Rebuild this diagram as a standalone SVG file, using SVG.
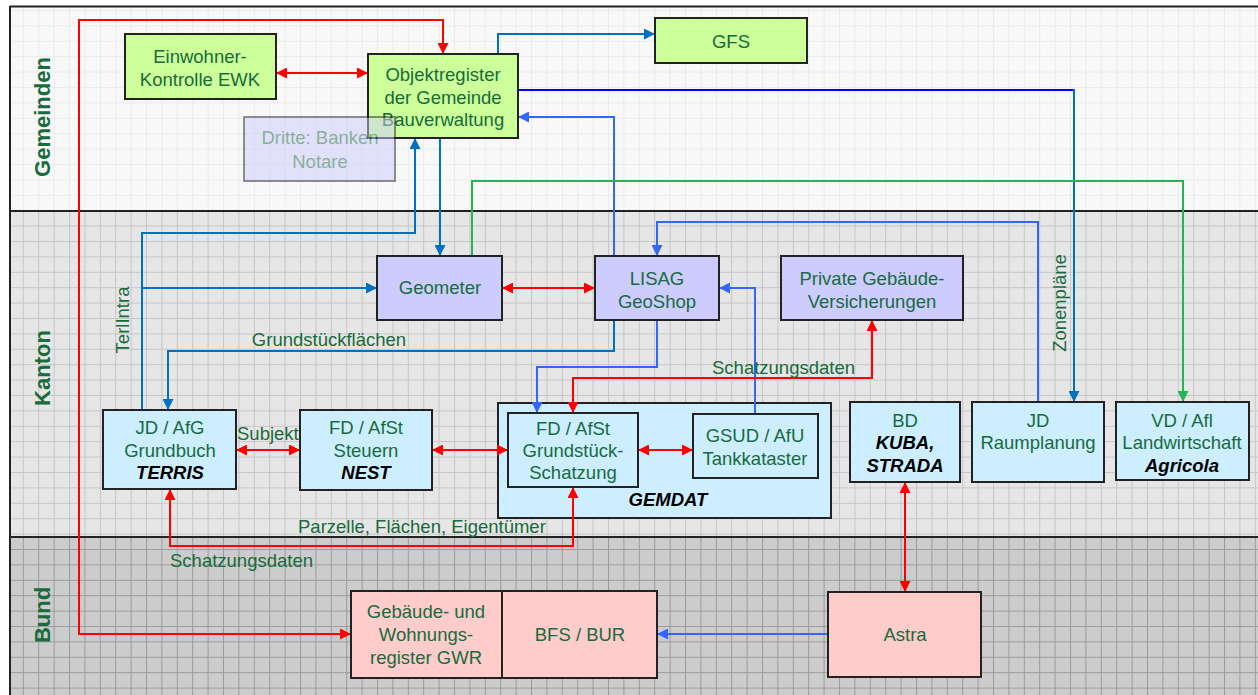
<svg xmlns="http://www.w3.org/2000/svg" width="1258" height="695" viewBox="0 0 1258 695">
<style>
text{font-family:"Liberation Sans",Arial,sans-serif;fill:#176b3c;font-size:18.5px}
.c{text-anchor:middle}
.bi{font-weight:bold;font-style:italic;fill:#000}
.lane{font-weight:bold;font-size:22px;text-anchor:middle}
.box{stroke:#222;stroke-width:2}
.g{fill:#ccff99}.v{fill:#ccccff}.b{fill:#cceeff}.p{fill:#ffcccc}
.ln{fill:none;stroke-width:2}
.r{stroke:#ff0000}.ba{stroke:#0070c0}.bb{stroke:#3366ff}.gr{stroke:#22b455}.bp{stroke:#0000ff}
</style>
<defs>
<pattern id="pg" x="7.4" y="10" width="15.4" height="15.4" patternUnits="userSpaceOnUse"><rect width="15.4" height="15.4" fill="#f8f8f8"/><path d="M0.5,0V15.4M0,0.5H15.4" stroke="#ebebeb" stroke-width="1"/></pattern>
<pattern id="pk" x="7.4" y="10" width="15.4" height="15.4" patternUnits="userSpaceOnUse"><rect width="15.4" height="15.4" fill="#e6e6e6"/><path d="M0.5,0V15.4M0,0.5H15.4" stroke="#c6c6c6" stroke-width="1"/></pattern>
<pattern id="pb" x="7.4" y="10" width="15.4" height="15.4" patternUnits="userSpaceOnUse"><rect width="15.4" height="15.4" fill="#cccccc"/><path d="M0.5,0V15.4M0,0.5H15.4" stroke="#9a9a9a" stroke-width="1"/></pattern>
<marker id="mr" viewBox="0 0 10 10" refX="10" refY="5" markerWidth="11" markerHeight="11" markerUnits="userSpaceOnUse" orient="auto-start-reverse"><path d="M0,0L10,5L0,10z" fill="#ff0000"/></marker>
<marker id="ma" viewBox="0 0 10 10" refX="10" refY="5" markerWidth="11" markerHeight="11" markerUnits="userSpaceOnUse" orient="auto-start-reverse"><path d="M0,0L10,5L0,10z" fill="#0070c0"/></marker>
<marker id="mb" viewBox="0 0 10 10" refX="10" refY="5" markerWidth="11" markerHeight="11" markerUnits="userSpaceOnUse" orient="auto-start-reverse"><path d="M0,0L10,5L0,10z" fill="#3366ff"/></marker>
<marker id="mg" viewBox="0 0 10 10" refX="10" refY="5" markerWidth="11" markerHeight="11" markerUnits="userSpaceOnUse" orient="auto-start-reverse"><path d="M0,0L10,5L0,10z" fill="#22b455"/></marker>
</defs>
<rect width="1258" height="695" fill="#ffffff"/>
<g id="lanes">
<rect x="10" y="7" width="1250" height="204" fill="url(#pg)"/>
<rect x="10" y="211" width="1250" height="326" fill="url(#pk)"/>
<rect x="10" y="537" width="1250" height="160" fill="url(#pb)"/>
<path d="M10,6.5H1260M10,211H1260M10,537H1260M10,6V697" stroke="#222" stroke-width="2" fill="none"/>
<text class="lane" transform="translate(50,117) rotate(-90)">Gemeinden</text>
<text class="lane" transform="translate(50,368) rotate(-90)">Kanton</text>
<text class="lane" transform="translate(50,615) rotate(-90)">Bund</text>
</g>
<g id="n-gemdat"><rect class="box b" x="498" y="403" width="333" height="115"/><text class="bi c" x="668" y="506">GEMDAT</text></g>
<g id="connectors">
<path class="ln r" d="M351,634H79V20H443V54" marker-start="url(#mr)" marker-end="url(#mr)"/>
<path class="ln r" d="M276,73H368" marker-start="url(#mr)" marker-end="url(#mr)"/>
<path class="ln ba" d="M498,54V34H655" marker-end="url(#ma)"/>
<path class="ln bp" d="M518,90H1074"/>
<path class="ln ba" d="M1074,89V402" marker-end="url(#ma)"/>
<path class="ln bb" d="M614,256V117H518" marker-end="url(#mb)"/>
<path class="ln ba" d="M440,138V256" marker-end="url(#ma)"/>
<path class="ln ba" d="M142,410V233H415V138" marker-end="url(#ma)"/>
<path class="ln ba" d="M142,288H377" marker-end="url(#ma)"/>
<path class="ln gr" d="M472,256V181H1183V402" marker-end="url(#mg)"/>
<path class="ln bb" d="M755,414V288H719" marker-end="url(#mb)"/>
<path class="ln bb" d="M1038,402V222H657V256" marker-end="url(#mb)"/>
<path class="ln ba" d="M614,320V351H168V410" marker-end="url(#ma)"/>
<path class="ln bb" d="M657,320V367H537V413" marker-end="url(#mb)"/>
<path class="ln r" d="M573,413V378H872V320" marker-start="url(#mr)" marker-end="url(#mr)"/>
<path class="ln r" d="M502,288H595" marker-start="url(#mr)" marker-end="url(#mr)"/>
<path class="ln r" d="M236,450H300" marker-start="url(#mr)" marker-end="url(#mr)"/>
<path class="ln r" d="M432,450H508" marker-start="url(#mr)" marker-end="url(#mr)"/>
<path class="ln r" d="M638,450H693" marker-start="url(#mr)" marker-end="url(#mr)"/>
<path class="ln r" d="M170,489V546H573V487" marker-start="url(#mr)" marker-end="url(#mr)"/>
<path class="ln r" d="M905,482V592" marker-start="url(#mr)" marker-end="url(#mr)"/>
<path class="ln bb" d="M828,634H657" marker-end="url(#mb)"/>
<text transform="translate(129,320) rotate(-90)" class="c">TerlIntra</text>
<text transform="translate(1066,303) rotate(-90)" class="c">Zonenpläne</text>
<text x="329" y="346" class="c">Grundstückflächen</text>
<text x="712" y="374">Schatzungsdaten</text>
<text x="237" y="440">Subjekt</text>
<text x="298" y="533">Parzelle, Flächen, Eigentümer</text>
<text x="170" y="567">Schatzungsdaten</text>
</g>
<g id="n-ewk"><rect class="box g" x="125" y="34" width="151" height="65"/><text class="c" x="200" y="63">Einwohner-</text><text class="c" x="200" y="86">Kontrolle EWK</text></g>
<g id="n-objekt"><rect class="box g" x="368" y="54" width="150" height="84"/><text class="c" x="443" y="81">Objektregister</text><text class="c" x="443" y="104">der Gemeinde</text><text class="c" x="443" y="126">Bauverwaltung</text></g>
<g id="n-gfs"><rect class="box g" x="655" y="18" width="152" height="45"/><text class="c" x="731" y="48">GFS</text></g>
<g id="n-dritte" opacity="0.5"><rect class="box v" x="244" y="117" width="151" height="64" stroke="#444"/><text class="c" x="320" y="144">Dritte: Banken</text><text class="c" x="320" y="168">Notare</text></g>
<g id="n-geometer"><rect class="box v" x="377" y="256" width="125" height="64"/><text class="c" x="440" y="294">Geometer</text></g>
<g id="n-lisag"><rect class="box v" x="595" y="256" width="124" height="64"/><text class="c" x="657" y="285">LISAG</text><text class="c" x="657" y="308">GeoShop</text></g>
<g id="n-private"><rect class="box v" x="781" y="256" width="182" height="64"/><text class="c" x="872" y="285">Private Gebäude-</text><text class="c" x="872" y="308">Versicherungen</text></g>
<g id="n-terris"><rect class="box b" x="103" y="410" width="133" height="79"/><text class="c" x="170" y="434">JD / AfG</text><text class="c" x="170" y="457">Grundbuch</text><text class="c bi" x="170" y="479">TERRIS</text></g>
<g id="n-nest"><rect class="box b" x="300" y="410" width="132" height="80"/><text class="c" x="366" y="434">FD / AfSt</text><text class="c" x="366" y="457">Steuern</text><text class="c bi" x="366" y="479">NEST</text></g>
<g id="n-schatzung"><rect class="box b" x="508" y="413" width="130" height="74"/><text class="c" x="573" y="435">FD / AfSt</text><text class="c" x="573" y="457">Grundstück-</text><text class="c" x="573" y="479">Schatzung</text></g>
<g id="n-tank"><rect class="box b" x="693" y="414" width="125" height="64"/><text class="c" x="755" y="442">GSUD / AfU</text><text class="c" x="755" y="465">Tankkataster</text></g>
<g id="n-bd"><rect class="box b" x="850" y="402" width="110" height="80"/><text class="c" x="905" y="427">BD</text><text class="c bi" x="905" y="449">KUBA,</text><text class="c bi" x="905" y="472">STRADA</text></g>
<g id="n-raum"><rect class="box b" x="972" y="402" width="132" height="80"/><text class="c" x="1038" y="427">JD</text><text class="c" x="1038" y="449">Raumplanung</text></g>
<g id="n-vd"><rect class="box b" x="1116" y="402" width="133" height="78"/><text class="c" x="1182" y="427">VD / Afl</text><text class="c" x="1182" y="449">Landwirtschaft</text><text class="c bi" x="1182" y="472">Agricola</text></g>
<g id="n-gwr"><rect class="box p" x="351" y="591" width="151" height="87"/><text class="c" x="426" y="618">Gebäude- und</text><text class="c" x="426" y="641">Wohnungs-</text><text class="c" x="426" y="664">register GWR</text></g>
<g id="n-bfs"><rect class="box p" x="502" y="591" width="155" height="87"/><text class="c" x="580" y="641">BFS / BUR</text></g>
<g id="n-astra"><rect class="box p" x="828" y="592" width="153" height="85"/><text class="c" x="905" y="641">Astra</text></g>
</svg>
